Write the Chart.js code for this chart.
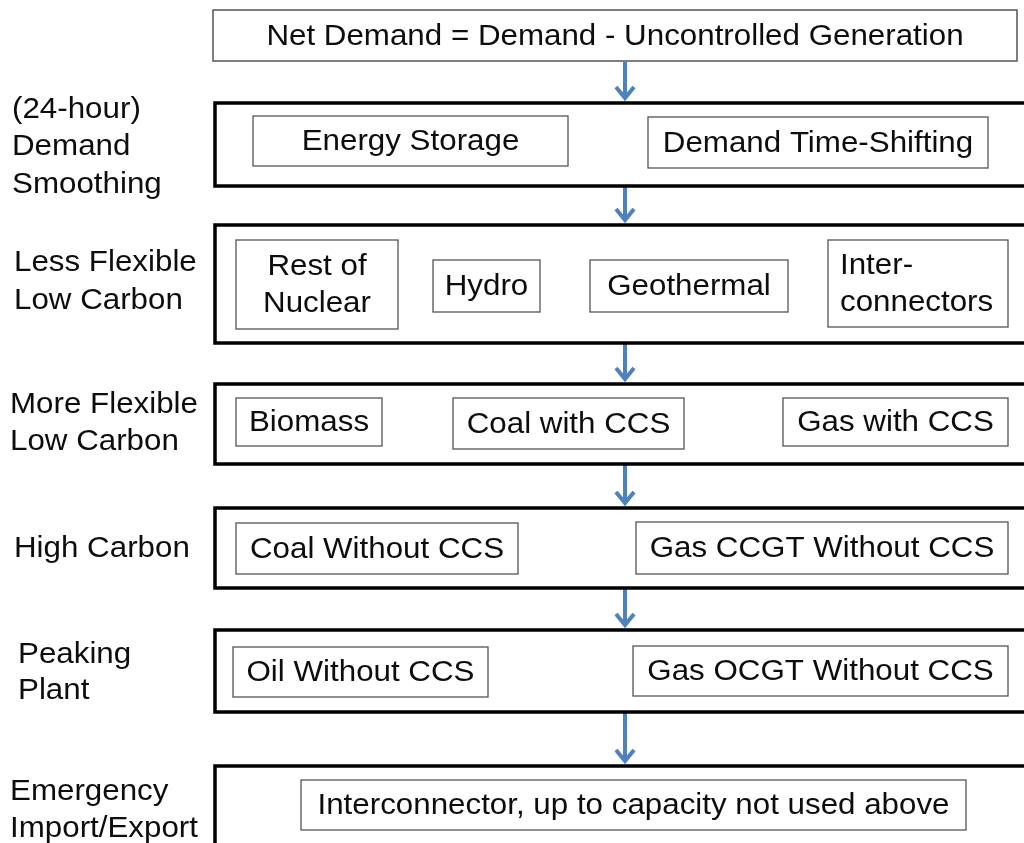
<!DOCTYPE html>
<html>
<head>
<meta charset="utf-8">
<script src="https://cdn.jsdelivr.net/npm/chart.js@4"></script>
<style>
  html, body { margin: 0; padding: 0; background: #ffffff; }
  #wrap { width: 1024px; height: 843px; }
</style>
</head>
<body>
<div id="wrap"><canvas id="flowChart"></canvas></div>
<script>
// Content of the diagram
const headerText = 'Net Demand = Demand - Uncontrolled Generation';
const stageLabels = [
    ['(24-hour)', 'Demand', 'Smoothing'],
    ['Less Flexible', 'Low Carbon'],
    ['More Flexible', 'Low Carbon'],
    ['High Carbon'],
    ['Peaking', 'Plant'],
    ['Emergency', 'Import/Export']
];
const stageOptions = [
    [['Energy Storage'], ['Demand Time-Shifting']],
    [['Rest of', 'Nuclear'], ['Hydro'], ['Geothermal'], ['Inter-', 'connectors']],
    [['Biomass'], ['Coal with CCS'], ['Gas with CCS']],
    [['Coal Without CCS'], ['Gas CCGT Without CCS']],
    [['Oil Without CCS'], ['Gas OCGT Without CCS']],
    [['Interconnector, up to capacity not used above']]
];

// Layout (diagram units, same as the page pixels)
const headerBox = [213, 1017, 10, 61];
const stageTop = [103, 225, 384, 508, 630, 766];
const stageBottom = [186, 343, 464, 588, 712, 860];
const stageLeft = 215;
const labelX = [12, 14, 10, 14, 18, 10];
const labelY = [[110, 147, 185], [263, 301], [405, 442], [549], [655, 691], [792, 829]];
const optionBoxes = [
    [[253, 568, 116, 166], [648, 988, 117, 168]],
    [[236, 398, 240, 329], [433, 540, 260, 312], [590, 788, 260, 312], [828, 1008, 240, 327]],
    [[236, 382, 398, 446], [453, 684, 398, 449], [783, 1008, 398, 446]],
    [[236, 518, 523, 574], [636, 1008, 522, 574]],
    [[233, 488, 647, 697], [633, 1008, 646, 696]],
    [[301, 966, 780, 830]]
];
const leftAligned = { '1-3': 840 };
const arrowX = 625;

const FONT = '29px "Liberation Sans", Arial, sans-serif';
const STRETCH = 1.08;
const TEXT_COLOR = '#0d0d0d';
const LINE_H = 37;

// Draw the diagram through the chart's scales
const diagramPlugin = {
    id: 'diagram',
    afterDraw(chart) {
        const ctx = chart.ctx;
        const xs = chart.scales.x;
        const ys = chart.scales.y;
        const px = v => xs.getPixelForValue(v);
        const py = v => ys.getPixelForValue(v);

        ctx.save();
        ctx.font = FONT;
        ctx.textBaseline = 'middle';

        function text(t, x, y, align) {
            ctx.save();
            ctx.fillStyle = TEXT_COLOR;
            ctx.textAlign = align;
            ctx.translate(px(x), py(y));
            ctx.scale(STRETCH, 1);
            ctx.fillText(t, 0, 0);
            ctx.restore();
        }

        function box(b, width, color) {
            ctx.lineWidth = width;
            ctx.strokeStyle = color;
            ctx.strokeRect(px(b[0]), py(b[2]), px(b[1]) - px(b[0]), py(b[3]) - py(b[2]));
        }

        function lines(textLines, cx, cy, align, leftX) {
            const start = cy + 1 - (textLines.length - 1) * LINE_H / 2;
            textLines.forEach((t, i) => {
                text(t, align === 'left' ? leftX : cx, start + i * LINE_H, align);
            });
        }

        // header
        box(headerBox, 1.5, '#555555');
        lines([headerText], (headerBox[0] + headerBox[1]) / 2, (headerBox[2] + headerBox[3]) / 2, 'center');

        // arrows
        const arrowFrom = [headerBox[3]].concat(stageBottom.slice(0, -1));
        ctx.strokeStyle = '#4f81bd';
        ctx.lineCap = 'butt';
        ctx.lineJoin = 'miter';
        arrowFrom.forEach((y0, i) => {
            const y1 = stageTop[i] - 2;
            ctx.lineWidth = 4;
            ctx.beginPath();
            ctx.moveTo(px(arrowX), py(y0 + 1));
            ctx.lineTo(px(arrowX), py(y1 - 3));
            ctx.stroke();
            ctx.beginPath();
            ctx.lineWidth = 4;
            ctx.moveTo(px(arrowX - 9), py(y1 - 14));
            ctx.lineTo(px(arrowX), py(y1 - 3));
            ctx.lineTo(px(arrowX + 9), py(y1 - 14));
            ctx.stroke();
        });

        // stages
        stageTop.forEach((top, i) => {
            box([stageLeft, 1040, top, stageBottom[i]], 3.5, '#000000');
            stageLabels[i].forEach((t, j) => {
                text(t, labelX[i], labelY[i][j], 'left');
            });
            optionBoxes[i].forEach((b, j) => {
                box(b, 1.3, '#555555');
                const key = i + '-' + j;
                const cx = (b[0] + b[1]) / 2;
                const cy = (b[2] + b[3]) / 2;
                if (leftAligned[key] !== undefined) {
                    lines(stageOptions[i][j], cx, cy, 'left', leftAligned[key]);
                } else {
                    lines(stageOptions[i][j], cx, cy, 'center');
                }
            });
        });
        ctx.restore();
    }
};

new Chart(document.getElementById('flowChart'), {
    type: 'scatter',
    data: { datasets: [{ data: [], pointRadius: 0 }] },
    options: {
        responsive: true,
        maintainAspectRatio: false,
        animation: false,
        layout: { padding: 0 },
        plugins: { legend: { display: false }, tooltip: { enabled: false } },
        scales: {
            x: { type: 'linear', min: 0, max: 1024, display: false },
            y: { type: 'linear', min: 0, max: 843, reverse: true, display: false }
        }
    },
    plugins: [diagramPlugin]
});
</script>
</body>
</html>
